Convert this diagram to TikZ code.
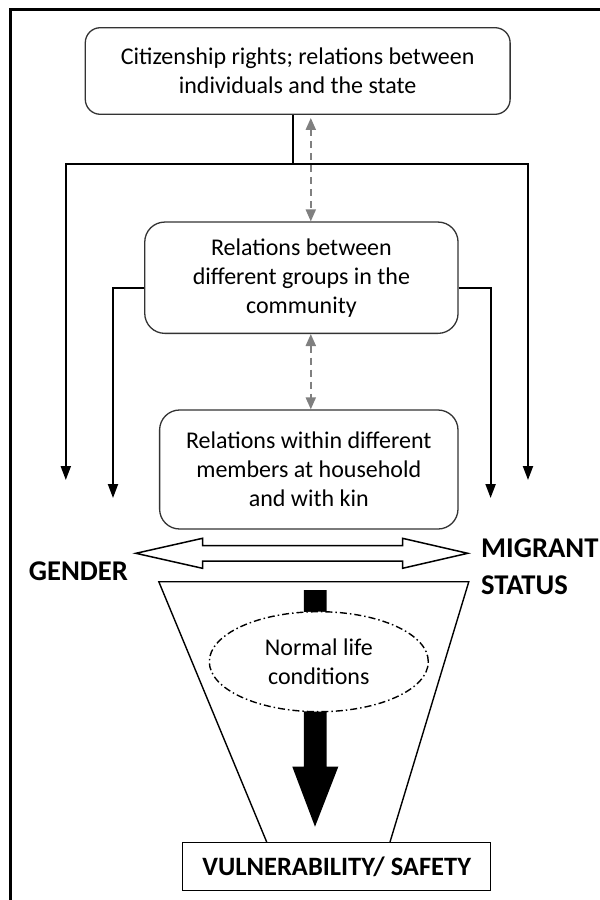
\documentclass[tikz,border=0pt]{standalone}
\usepackage{fontspec}
\setmainfont{Carlito}
\usetikzlibrary{arrows.meta,shapes.geometric}
\begin{document}
\begin{tikzpicture}[x=1pt,y=-1pt,
  box/.style={draw=black!80,line width=1.3pt,align=center,inner sep=0pt,
    font=\fontsize{24}{29}\selectfont},
  link/.style={line width=2pt,-{Triangle[width=10pt,length=14pt]}},
  plain/.style={line width=2pt},
  glink/.style={draw=black!50,line width=2pt,dash pattern=on 7pt off 5pt,
    {Triangle[width=10pt,length=12pt]}-{Triangle[width=10pt,length=12pt]}},
  biglabel/.style={font=\fontsize{28.6}{36.7}\selectfont\bfseries,inner sep=0pt}]
\useasboundingbox (0,0) rectangle (600,900);
% outer frame (open on the right and bottom)
\draw[line width=3pt] (10,900) -- (10,9.5) -- (600,9.5);

% the three levels of relations
\node[box,rounded corners=15pt,minimum width=424.8pt,minimum height=86.6pt]
  (state) at (297.7,71) {Citizenship rights; relations between\\individuals and the state};
\node[box,rounded corners=20pt,minimum width=313.3pt,minimum height=111.3pt]
  (community) at (301.4,277.7) {Relations between\\different groups in the\\community};
\node[box,rounded corners=20pt,minimum width=298.4pt,minimum height=119pt]
  (household) at (308.8,469.5) {Relations within different\\members at household\\and with kin};

% influences from the state level
\coordinate (sj) at (292.8,164);
\coordinate (sl) at (65.8,164);
\coordinate (sr) at (528,164);
\coordinate (slt) at (65.8,480);
\coordinate (srt) at (528,480);
\draw[plain] (state.south -| sj) -- (sj);
\draw[link] (sj) -- (sl) -- (slt);
\draw[link] (sj) -- (sr) -- (srt);

% influences from the community level
\coordinate (cl) at (113,288.3);
\coordinate (cr) at (490.6,288.3);
\coordinate (clt) at (113,498);
\coordinate (crt) at (490.6,498);
\draw[link] (community.west |- cl) -- (cl) -- (clt);
\draw[link] (community.east |- cr) -- (cr) -- (crt);

% two-way links between levels
\coordinate (dx) at (310.8,0);
\draw[glink,shorten <=3pt] (state.south -| dx) -- (community.north -| dx);
\draw[glink] (community.south -| dx) -- (household.north -| dx);

% gender <-> migrant status
\draw[line width=1.5pt,fill=white]
  (135.9,553.3) -- (202.5,538.3) -- (202.5,545.7) -- (402.5,545.7) -- (402.5,538.3)
  -- (467.7,553.3) -- (402.5,568.3) -- (402.5,561) -- (202.5,561) -- (202.5,568.3) -- cycle;
\node[biglabel] (gender) at (78.4,571.7) {GENDER};
\node[biglabel,align=left,anchor=west] (migrant) at (481,566.7) {MIGRANT\\STATUS};

% funnel
\draw[line width=1.4pt] (266.7,842) -- (158.8,581.7) -- (468.8,581.7) -- (390,842);

% outcome box
\node[draw,line width=1.5pt,minimum width=308pt,minimum height=48.4pt,inner sep=0pt,
  font=\fontsize{26.5}{30}\selectfont\bfseries] (outcome) at (336.7,866.5) {VULNERABILITY/ SAFETY};

% heavy arrow through normal life conditions
\fill (303.8,590) -- (326.6,590) -- (326.6,766.7) -- (338.3,766.7) -- (315,826.7)
  -- (292.3,766.7) -- (303.8,766.7) -- cycle;
\node[draw,fill=white,ellipse,line width=1.4pt,
  dash pattern=on 7pt off 3pt on 1.5pt off 3pt,
  minimum width=219pt,minimum height=100pt,inner sep=0pt,align=center,
  font=\fontsize{24}{29}\selectfont] (normal) at (318.8,661.7) {Normal life\\conditions};
\end{tikzpicture}
\end{document}
